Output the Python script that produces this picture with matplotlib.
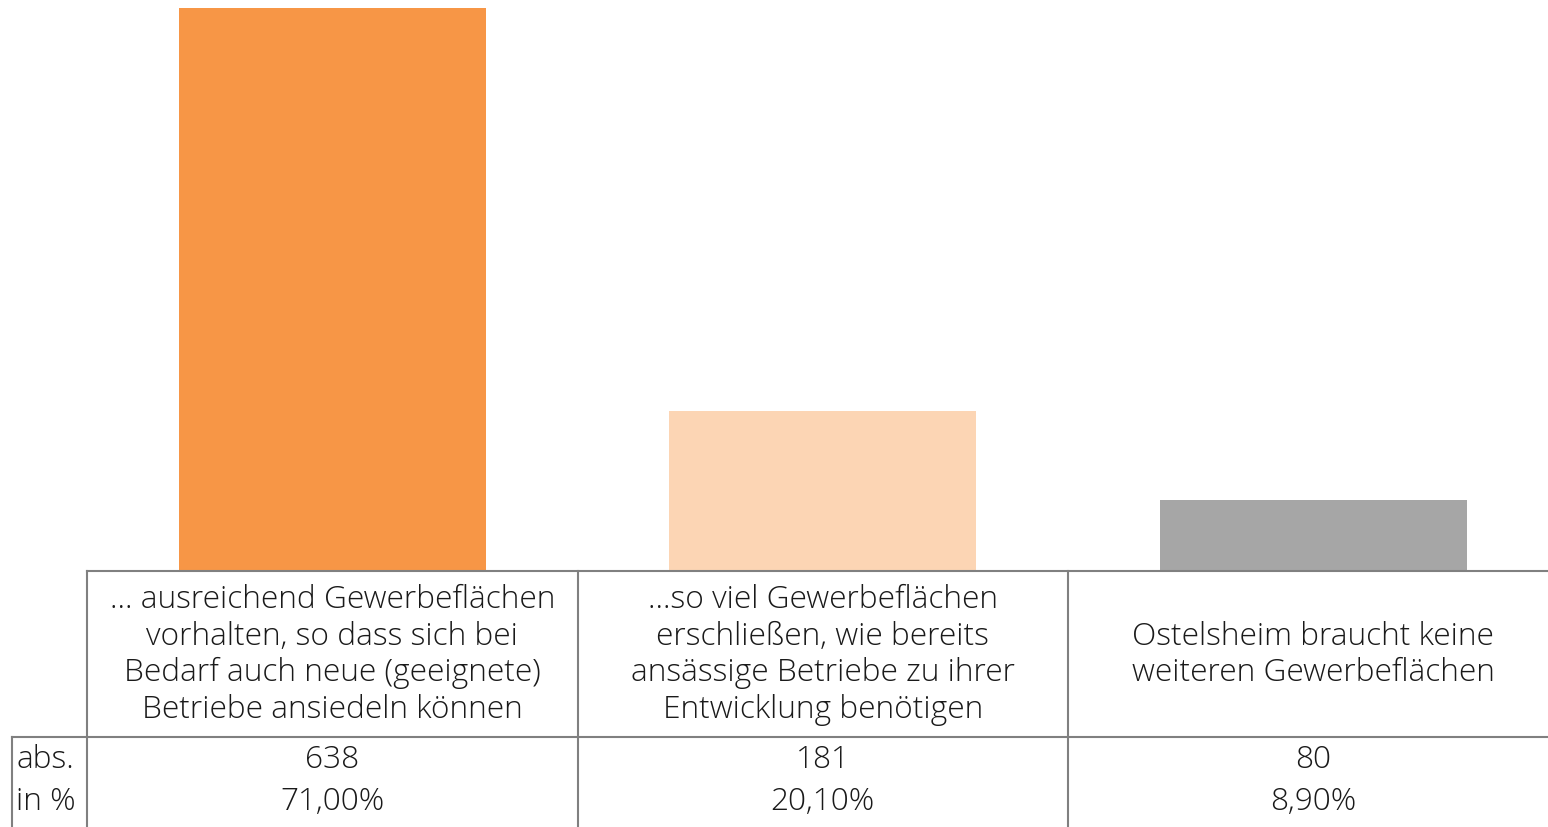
import matplotlib
matplotlib.use("Agg")
import matplotlib.pyplot as plt
from matplotlib.transforms import blended_transform_factory

# Daten
categories = [
    "... ausreichend Gewerbeflächen\nvorhalten, so dass sich bei\nBedarf auch neue (geeignete)\nBetriebe ansiedeln können",
    "...so viel Gewerbeflächen\nerschließen, wie bereits\nansässige Betriebe zu ihrer\nEntwicklung benötigen",
    "Ostelsheim braucht keine\nweiteren Gewerbeflächen",
]
abs_values = [638, 181, 80]
pct_labels = ["71,00%", "20,10%", "8,90%"]
row_labels = ["abs.", "in %"]
bar_colors = ["#F79646", "#FCD5B4", "#A6A6A6"]

W, H = 1548, 827
plt.rcParams["font.family"] = ["Open Sans", "DejaVu Sans"]
fig = plt.figure(figsize=(W / 100, H / 100), dpi=100)

# Pixel-Koordinaten -> Figure-Koordinaten
def fx(px):
    return px / W

def fy(py):
    return 1 - py / H

base_y = 571
left_x = 87
col_w = 490.5
ax = fig.add_axes([fx(left_x), fy(base_y), 3 * col_w / W, fy(0) - fy(base_y)])
x = list(range(len(abs_values)))
ax.bar(x, abs_values, width=307 / col_w, color=bar_colors)
ax.set_xlim(-0.5, len(x) - 0.5)
ax.set_ylim(0, max(abs_values) * base_y / (base_y - 8))
ax.axis("off")

# Tabelle
grid = fig.add_axes([0, 0, 1, 1])
grid.set_xlim(0, W)
grid.set_ylim(H, 0)
grid.axis("off")
line_kw = dict(color="#808080", linewidth=1.5)
grid.plot([left_x, W], [base_y, base_y], **line_kw)
grid.plot([12, W], [737, 737], **line_kw)
grid.plot([12, 12], [737, H], **line_kw)
for px in [left_x, left_x + col_w, left_x + 2 * col_w]:
    grid.plot([px, px], [base_y, H], **line_kw)

tr = blended_transform_factory(ax.transData, fig.transFigure)
fs = 22.8
txt_kw = dict(fontsize=fs, color="#1a1a1a", fontweight="light")
for i, cat in enumerate(categories):
    ax.text(i, fy(655), cat, transform=tr, ha="center", va="center",
            linespacing=1.19, **txt_kw)
    ax.text(i, fy(760), str(abs_values[i]), transform=tr, ha="center", va="center", **txt_kw)
    ax.text(i, fy(802), pct_labels[i], transform=tr, ha="center", va="center", **txt_kw)

fig.text(fx(16), fy(760), row_labels[0], ha="left", va="center", **txt_kw)
fig.text(fx(16), fy(802), row_labels[1], ha="left", va="center", **txt_kw)

fig.savefig("out.png", dpi=100)
